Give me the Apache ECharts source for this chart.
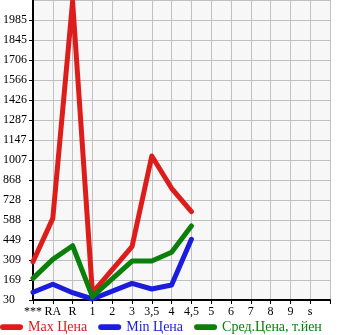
<!DOCTYPE html>
<html><head><meta charset="utf-8">
<script src="https://cdn.jsdelivr.net/npm/echarts@6/dist/echarts.min.js"></script>
<style>html,body{margin:0;padding:0;background:#fff}#c{width:345px;height:335px}</style>
</head><body><div id="c"></div>
<script>
const categories = ['***','RA','R','1','2','3','3,5','4','4,5','5','6','7','8','9','s',''];
const maxPrice = [297, 600, 2115, 79, null, 402, 1036, 810, 647];
const minPrice = [84, 140, 81, 37, null, 146, 107, 135, 454];
const avgPrice = [181, 314, 409, 53, null, 302, 302, 363, 547];
const seriesNames = ['Max Цена', 'Min Цена', 'Сред.Цена, т.йен'];
const colors = ['#dd1c1c', '#1c1cdd', '#0a800a'];
const yMin = 30, yMax = 2125, yStep = (2125 - 30) / 15;

const chart = echarts.init(document.getElementById('c'));
const font = 'Liberation Serif';
const mk = (name, data, color) => ({
  name, type: 'line', data, connectNulls: true, showSymbol: false, symbol: 'none',
  lineStyle: { color, width: 5, join: 'round', cap: 'round' }, itemStyle: { color },
  animation: false
});
chart.setOption({
  animation: false,
  grid: { left: 30, right: 15, top: 0, bottom: 35, show: true, backgroundColor: '#f7f7f7', borderWidth: 0 },
  legend: {
    left: 0, top: 320, padding: 0, itemWidth: 23, itemHeight: 6, itemGap: 11,
    icon: 'path://M3,0 L21,0 A3,3 0 0 1 21,6 L3,6 A3,3 0 0 1 3,0 Z',
    data: seriesNames.map((n, i) => ({ name: n, textStyle: { color: colors[i] } })),
    textStyle: { fontFamily: font, fontSize: 14 }
  },
  xAxis: {
    type: 'category', data: categories, boundaryGap: false,
    axisLine: { lineStyle: { color: '#000', width: 2 } },
    axisTick: { show: true, length: 4, lineStyle: { color: '#000' } },
    axisLabel: { color: '#000', fontFamily: font, fontSize: 12, margin: 6, interval: 0 },
    splitLine: { show: true, lineStyle: { color: '#c0c0c0', width: 1 } }
  },
  yAxis: {
    type: 'value', min: yMin, max: yMax, interval: yStep,
    axisLine: { show: true, lineStyle: { color: '#000', width: 2 } },
    axisTick: { show: true, length: 4, lineStyle: { color: '#000' } },
    axisLabel: { color: '#000', fontFamily: font, fontSize: 12, align: 'left', margin: 30,
      showMaxLabel: false, padding: [0, 0, 6, 0],
      formatter: v => String(Math.floor(v + 1e-6)) },
    splitLine: { show: true, lineStyle: { color: '#c0c0c0', width: 1 } }
  },
  series: [
    mk(seriesNames[0], maxPrice, colors[0]),
    mk(seriesNames[1], minPrice, colors[1]),
    mk(seriesNames[2], avgPrice, colors[2])
  ]
});
</script></body></html>
